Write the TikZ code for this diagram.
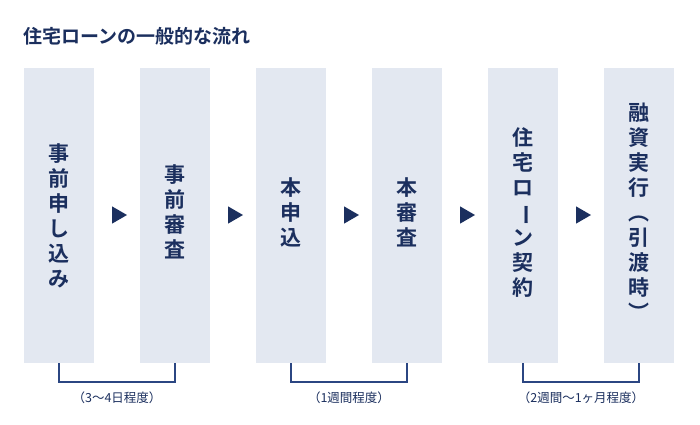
\documentclass[tikz,border=0pt]{standalone}
\usepackage{fontspec}
\usetikzlibrary{shapes.geometric}
\newfontfamily\cjk{Noto Sans CJK JP}
\newfontfamily\cjkb{Noto Sans CJK JP Bold}
\definecolor{boxc}{HTML}{E3E8F1}
\definecolor{navy}{HTML}{1B2F5E}
\definecolor{brk}{HTML}{2B4682}
\begin{document}
\begin{tikzpicture}[x=1pt,y=-1pt,
  stepbox/.style={fill=boxc,draw=none,minimum width=70pt,minimum height=295pt,inner sep=0pt},
  vtxt/.style={text=navy,font=\cjkb\fontsize{21}{25}\selectfont,align=center,text width=26pt},
  tri/.style={fill=navy,draw=none,regular polygon,regular polygon sides=3,shape border rotate=-90,minimum size=20pt,inner sep=0pt},
  brack/.style={draw=brk,line width=1.6pt},
  lbl/.style={text=navy,font=\cjk\fontsize{12.5}{14}\selectfont}]
\useasboundingbox (0,0) rectangle (700,424);
\node[anchor=west,text=navy,font=\cjkb\fontsize{19}{22}\selectfont] (title) at (20,36) {住宅ローンの一般的な流れ};
\foreach \i/\x in {1/59,2/175,3/291,4/407,5/523,6/639}{
  \node[stepbox] (b\i) at (\x,215.5) {};
}
\node[vtxt] (t1) at (b1) {事\\前\\申\\し\\込\\み};
\node[vtxt] (t2) at (175,212) {事\\前\\審\\査};
\node[vtxt] (t3) at (291,212) {本\\申\\込};
\node[vtxt] (t4) at (407,212) {本\\審\\査};
\node[vtxt] (t5) at (523,212) {住\\宅\\ロ\\\rotatebox[origin=c]{-90}{ー}\\ン\\契\\約};
\node[vtxt] (t6) at (639,212) {融\\資\\実\\行\\︵\\引\\渡\\時\\︶};
\foreach \x/\n in {117/1,233/2,349/3,465/4,581/5}{
  \node[tri] (a\n) at (\x,215) {};
}
\coordinate (p1) at (59,363); \coordinate (q1) at (175,363);
\coordinate (p2) at (291,363); \coordinate (q2) at (407,363);
\coordinate (p3) at (523,363); \coordinate (q3) at (639,363);
\foreach \n in {1,2,3}{
  \draw[brack] (p\n) -- ++(0,19) -| (q\n);
}
\node[lbl] (l1) at (117,398) {（3～4日程度）};
\node[lbl] (l2) at (349,398) {（1週間程度）};
\node[lbl] (l3) at (581,398) {（2週間～1ヶ月程度）};
\end{tikzpicture}
\end{document}
